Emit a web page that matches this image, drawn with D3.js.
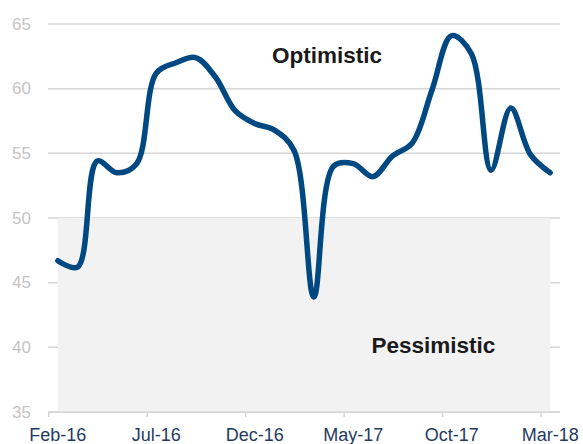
<!DOCTYPE html>
<html>
<head>
<meta charset="utf-8">
<script src="https://cdn.jsdelivr.net/npm/d3@7"></script>
<style>
  body { margin: 0; background: #fff; }
  svg { display: block; font-family: "Liberation Sans", Arial, sans-serif; }
</style>
</head>
<body>
<svg id="chart" width="583" height="444"></svg>
<script>
const months = [
  "Feb-16", "Mar-16", "Apr-16", "May-16", "Jun-16", "Jul-16", "Aug-16", "Sep-16",
  "Oct-16", "Nov-16", "Dec-16", "Jan-17", "Feb-17", "Mar-17", "Apr-17", "May-17",
  "Jun-17", "Jul-17", "Aug-17", "Sep-17", "Oct-17", "Nov-17", "Dec-17", "Jan-18",
  "Feb-18", "Mar-18"
];
const sentiment = [
  46.7, 46.2, 54.4, 53.5, 54.2, 61.2, 62.0, 62.4,
  60.9, 58.3, 57.3, 56.8, 55.2, 43.9, 54.0, 54.2,
  53.2, 54.8, 55.8, 59.9, 64.1, 62.7, 53.7, 58.5,
  54.9, 53.5
];
const tickLabels = ["Feb-16", "Jul-16", "Dec-16", "May-17", "Oct-17", "Mar-18"];
const yTicks = [35, 40, 45, 50, 55, 60, 65];
const zones = [
  { label: "Optimistic", month: "Dec-16", value: 62.0, dx: 82 },
  { label: "Pessimistic", month: "May-17", value: 39.6, dx: 90 }
];

const margin = { top: 24, right: 23, bottom: 32, left: 48 };
const width = 583 - margin.left - margin.right;
const height = 444 - margin.top - margin.bottom;

const svg = d3.select("#chart");
const g = svg.append("g")
  .attr("transform", "translate(" + margin.left + "," + margin.top + ")");

const x = d3.scaleBand().domain(months).range([0, width]).padding(0);
const y = d3.scaleLinear().domain([35, 65]).range([height, 0]);
const half = x.bandwidth() / 2;

// gridlines
g.append("g")
  .selectAll("line")
  .data(yTicks)
  .join("line")
  .attr("x1", 0)
  .attr("x2", width)
  .attr("y1", d => y(d))
  .attr("y2", d => y(d))
  .attr("stroke", "#d6d6d6")
  .attr("stroke-width", 1.5);

// pessimistic band (below 50)
g.append("rect")
  .attr("x", x(months[0]) + half)
  .attr("y", y(50))
  .attr("width", x(months[months.length - 1]) - x(months[0]))
  .attr("height", y(35) - y(50))
  .attr("fill", "#f2f2f2");

// y labels
g.append("g")
  .selectAll("text")
  .data(yTicks)
  .join("text")
  .attr("x", -17)
  .attr("y", d => y(d))
  .attr("dy", "0.34em")
  .attr("text-anchor", "end")
  .attr("font-size", "17px")
  .attr("fill", "#c4c4c4")
  .text(d => d);

// x axis
g.append("line")
  .attr("x1", 0)
  .attr("x2", width)
  .attr("y1", height)
  .attr("y2", height)
  .attr("stroke", "#d6d6d6")
  .attr("stroke-width", 1.5);

const xt = g.append("g")
  .selectAll("g")
  .data(tickLabels)
  .join("g");
xt.append("line")
  .attr("x1", d => x(d) + 0.75)
  .attr("x2", d => x(d) + 0.75)
  .attr("y1", height)
  .attr("y2", height + 5)
  .attr("stroke", "#d6d6d6")
  .attr("stroke-width", 1.5);
xt.append("text")
  .attr("x", d => x(d) + half)
  .attr("y", height + 29)
  .attr("text-anchor", "middle")
  .attr("font-size", "18px")
  .attr("fill", "#1f3a5f")
  .text(d => d);

// zone labels
g.selectAll(".zone")
  .data(zones)
  .join("text")
  .attr("class", "zone")
  .attr("x", d => x(d.month) + d.dx)
  .attr("y", d => y(d.value))
  .attr("text-anchor", "middle")
  .attr("font-size", "22.5px")
  .attr("font-weight", "bold")
  .attr("fill", "#1a1a1a")
  .text(d => d.label);

// line
const line = d3.line()
  .x((d, i) => x(months[i]) + half)
  .y(d => y(d))
  .curve(d3.curveCatmullRom.alpha(0.5));

g.append("path")
  .datum(sentiment)
  .attr("fill", "none")
  .attr("stroke", "#004882")
  .attr("stroke-width", 5.5)
  .attr("stroke-linejoin", "round")
  .attr("stroke-linecap", "round")
  .attr("d", line);
</script>
</body>
</html>
